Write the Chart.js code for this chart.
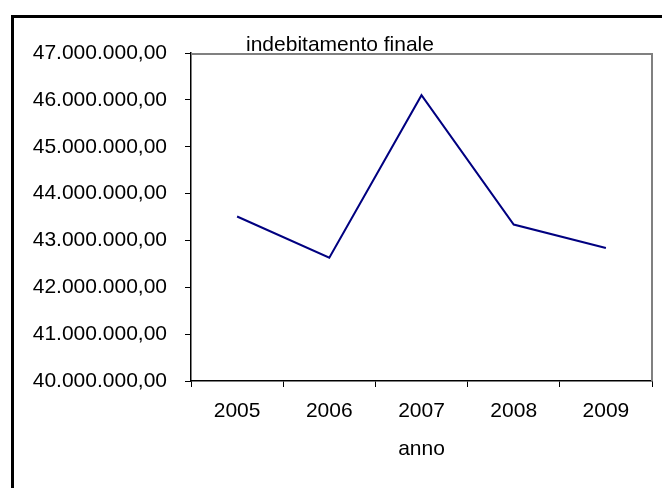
<!DOCTYPE html>
<html>
<head>
<meta charset="utf-8">
<script src="https://cdn.jsdelivr.net/npm/chart.js@4"></script>
<style>
  html, body { margin: 0; padding: 0; background: #fff; }
  #wrap { position: relative; width: 662px; height: 488px; overflow: hidden; }
  #frame { position: absolute; left: 11px; top: 15px; width: 700px; height: 500px;
           border-top: 3px solid #000; border-left: 3px solid #000; box-sizing: border-box; pointer-events: none; }
  canvas { position: absolute; left: 0; top: 0; }
</style>
</head>
<body>
<div id="wrap">
  <canvas id="c" width="662" height="488"></canvas>
  <div id="frame"></div>
</div>
<script>
const categories = ['2005', '2006', '2007', '2008', '2009'];
const indebitamento = [43510000, 42630000, 46100000, 43340000, 42840000];
const yMin = 40000000, yMax = 47000000, yStep = 1000000;
const chartTitle = 'indebitamento finale';
const xTitle = 'anno';

function fmtIt(v) {
  const parts = Math.abs(v).toFixed(2).split('.');
  const intPart = parts[0].replace(/\B(?=(\d{3})+(?!\d))/g, '.');
  return (v < 0 ? '-' : '') + intPart + ',' + parts[1];
}

const FONT = "'Liberation Sans', Arial, sans-serif";
const FS = 21;

const framePlugin = {
  id: 'framePlugin',
  beforeDatasetsDraw(chart) {
    const {ctx, chartArea: a} = chart;
    ctx.save();
    ctx.strokeStyle = '#808080';
    ctx.lineWidth = 2;
    ctx.beginPath();
    ctx.moveTo(a.left, a.top + 1);
    ctx.lineTo(a.right, a.top + 1);
    ctx.lineTo(a.right, a.bottom);
    ctx.stroke();
    ctx.restore();
  },
  afterDraw(chart) {
    const {ctx, chartArea: a} = chart;
    ctx.save();
    ctx.fillStyle = '#000';
    ctx.font = FS + 'px ' + FONT;
    ctx.textAlign = 'left';
    ctx.textBaseline = 'alphabetic';
    ctx.fillText(chartTitle, a.left + 55, a.top - 2);
    ctx.restore();
  }
};

new Chart(document.getElementById('c'), {
  type: 'line',
  data: {
    labels: categories,
    datasets: [{
      data: indebitamento,
      borderColor: '#000080',
      borderWidth: 2,
      pointRadius: 0,
      tension: 0,
      fill: false
    }]
  },
  options: {
    responsive: false,
    animation: false,
    devicePixelRatio: 1,
    layout: { padding: { top: 53, right: 10, left: 0, bottom: 0 } },
    plugins: { legend: { display: false }, tooltip: { enabled: false }, title: { display: false } },
    scales: {
      x: {
        offset: true,
        grid: { offset: true, drawOnChartArea: false, drawTicks: true, tickLength: 6, color: '#000' },
        border: { color: '#000', width: 1.5 },
        ticks: { color: '#000', font: { family: FONT, size: FS }, padding: 12, maxRotation: 0 },
        title: { display: true, text: xTitle, color: '#000', font: { family: FONT, size: FS }, padding: { top: 0, bottom: 26 } },
        afterFit(s) { s.height = 107; }
      },
      y: {
        min: yMin, max: yMax,
        grid: { drawOnChartArea: false, drawTicks: true, tickLength: 6, color: '#000' },
        border: { color: '#000', width: 1.5 },
        ticks: { stepSize: yStep, color: '#000', font: { family: FONT, size: FS }, padding: 18,
                 callback: v => fmtIt(v) },
        afterFit(s) { s.width = 191; }
      }
    }
  },
  plugins: [framePlugin]
});
</script>
</body>
</html>
